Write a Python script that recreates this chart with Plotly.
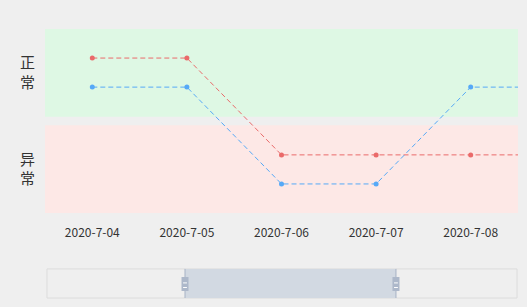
import plotly.graph_objects as go

dates = ["2020-7-04", "2020-7-05", "2020-7-06", "2020-7-07", "2020-7-08", "2020-7-09"]
status_labels = ["异常", "正常"]
red_status = ["正常", "正常", "异常", "异常", "异常", "异常"]
blue_status = ["正常", "正常", "异常", "异常", "正常", "正常"]
red_offset = 0.15
blue_offset = -0.15

level = {s: i for i, s in enumerate(status_labels)}
red_y = [level[s] + red_offset for s in red_status]
blue_y = [level[s] + blue_offset for s in blue_status]

RED = "#ea6a6a"
BLUE = "#56a9f7"

fig = go.Figure()
fig.add_trace(go.Scatter(x=dates, y=red_y, mode="lines+markers",
                         line=dict(color=RED, width=1, dash="5px,3px"),
                         marker=dict(color=RED, size=5), showlegend=False))
fig.add_trace(go.Scatter(x=dates, y=blue_y, mode="lines+markers",
                         line=dict(color=BLUE, width=1, dash="5px,3px"),
                         marker=dict(color=BLUE, size=5), showlegend=False))

shapes = [
    dict(type="rect", xref="paper", yref="y", x0=0, x1=1, y0=0.545, y1=1.45,
         fillcolor="rgb(222,248,228)", line=dict(width=0), layer="below"),
    dict(type="rect", xref="paper", yref="y", x0=0, x1=1, y0=-0.45, y1=0.455,
         fillcolor="rgb(253,232,230)", line=dict(width=0), layer="below"),
]
# data zoom slider (decoration)
sx0, sx1, sy0, sy1 = 0.0042, 0.998, -0.462, -0.304
wx0, wx1 = 0.296, 0.742
shapes += [
    dict(type="rect", xref="paper", yref="paper", x0=sx0, x1=sx1, y0=sy0, y1=sy1,
         fillcolor="rgba(0,0,0,0)", line=dict(color="#dcdcdc", width=1)),
    dict(type="rect", xref="paper", yref="paper", x0=wx0, x1=wx1, y0=sy0, y1=sy1,
         fillcolor="rgb(210,217,226)", line=dict(width=0)),
    dict(type="line", xref="paper", yref="paper", x0=wx0, x1=wx0, y0=sy0, y1=sy1,
         line=dict(color="#a7b3c5", width=1)),
    dict(type="line", xref="paper", yref="paper", x0=wx1, x1=wx1, y0=sy0, y1=sy1,
         line=dict(color="#a7b3c5", width=1)),
]
hw = 3.5 / 473
hy0, hy1 = (213 - 291) / 184, (213 - 277) / 184
for wx in (wx0, wx1):
    shapes.append(dict(type="rect", xref="paper", yref="paper", x0=wx - hw, x1=wx + hw,
                       y0=hy0, y1=hy1, fillcolor="#adb8ca", line=dict(width=0)))
    for yy in (-0.38, -0.405):
        shapes.append(dict(type="line", xref="paper", yref="paper", x0=wx - hw * 0.55,
                           x1=wx + hw * 0.55, y0=yy, y1=yy, line=dict(color="white", width=1)))

fig.update_layout(
    width=527, height=307,
    margin=dict(l=45, r=9, t=29, b=94),
    paper_bgcolor="#efefef", plot_bgcolor="#efefef",
    font=dict(family="Noto Sans CJK SC, Noto Sans, sans-serif", color="#333"),
    shapes=shapes,
    xaxis=dict(type="category", range=[-0.5, 4.5], showgrid=False, zeroline=False,
               showline=False, ticks="", tickfont=dict(size=12, color="#333"),
               ticklabelstandoff=11, fixedrange=True),
    yaxis=dict(range=[-0.45, 1.45], tickvals=[0, 1],
               ticktext=["异<br>常", "正<br>常"], showgrid=False, zeroline=False,
               showline=False, ticks="", tickfont=dict(size=15, color="#333"),
               ticklabelstandoff=9, fixedrange=True),
)

fig.write_html("out.html")
